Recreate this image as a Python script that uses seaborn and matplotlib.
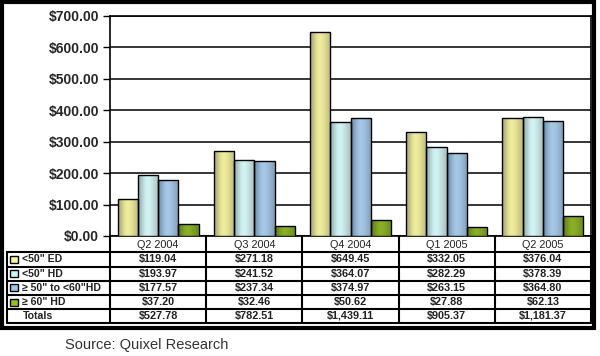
import numpy as np
import pandas as pd
import seaborn as sns
import matplotlib.pyplot as plt
from matplotlib.patches import Rectangle

quarters = ['Q2 2004', 'Q3 2004', 'Q4 2004', 'Q1 2005', 'Q2 2005']
series = ['<50" ED', '<50" HD', '\u2265 50" to <60"HD', '\u2265 60" HD']
ed_50 = [119.04, 271.18, 649.45, 332.05, 376.04]
hd_50 = [193.97, 241.52, 364.07, 282.29, 378.39]
hd_50_60 = [177.57, 237.34, 374.97, 263.15, 364.80]
hd_60 = [37.20, 32.46, 50.62, 27.88, 62.13]
totals = [527.78, 782.51, 1439.11, 905.37, 1181.37]
colors = ['#FAF690', '#CAF6F6', '#98C6F0', '#92C410']

df = pd.DataFrame({
    'quarter': np.repeat(quarters, len(series)),
    'series': series * len(quarters),
    'value': np.array([ed_50, hd_50, hd_50_60, hd_60]).T.ravel(),
})

sns.set_style('white')
plt.rcParams['font.family'] = ['Liberation Sans', 'DejaVu Sans']

fig = plt.figure(figsize=(6, 3.56), dpi=100)
W, H = 600, 356


def fig_rect(x0, y0, x1, y1):
    return [x0 / W, 1 - y1 / H, (x1 - x0) / W, (y1 - y0) / H]


ax = fig.add_axes(fig_rect(110, 16, 591, 236))
sns.barplot(data=df, x='quarter', y='value', hue='series', order=quarters,
            hue_order=series, palette=colors, width=0.84, ax=ax,
            edgecolor='black', linewidth=1.0, legend=False, zorder=3)
ax.set_ylim(0, 700)
ax.set_yticks(np.arange(0, 701, 100))
ax.set_yticklabels([f'${v:,.2f}' for v in np.arange(0, 701, 100)],
                   fontsize=10, fontweight='bold')
ax.yaxis.grid(True, color='black', linewidth=1.1, zorder=0)
ax.set_axisbelow(True)
ax.tick_params(axis='y', direction='out', length=5, width=1, color='black', pad=3, left=True)
ax.set_xticks([])
ax.set_xlabel('')
ax.set_ylabel('')
for s in ax.spines.values():
    s.set_color('black')
    s.set_linewidth(1.2)

# horizontal shading on each bar
shade = np.array([0.74, 0.87, 1.0, 1.02, 0.97, 0.9, 0.82])
for patch in ax.patches:
    bb = patch.get_bbox()
    if bb.height <= 0:
        continue
    base = np.array(patch.get_facecolor()[:3])
    img = np.clip(base[None, None, :] * shade[None, :, None], 0, 1)
    im = ax.imshow(img, extent=[bb.x0, bb.x1, bb.y0, bb.y1], aspect='auto',
                   interpolation='bicubic', zorder=3.5)
    im.set_clip_path(patch)
    patch.set_zorder(4)
    patch.set_facecolor('none')
ax.set_xlim(-0.5, len(quarters) - 0.5)
ax.set_ylim(0, 700)

# data table under the chart
lab_w = 103 / 96.2
tab = fig.add_axes(fig_rect(7, 236, 591, 323))
tab.set_xlim(-0.5 - lab_w, len(quarters) - 0.5)
tab.set_ylim(87, 0)
tab.axis('off')
rows = [16, 30.5, 44.8, 59, 73, 87]
left = -0.5 - lab_w
right = len(quarters) - 0.5
lw = 1.5
for y in rows:
    tab.plot([left, right], [y, y], color='black', lw=lw, clip_on=False)
for i in range(len(quarters) + 1):
    tab.plot([i - 0.5, i - 0.5], [0, 87], color='black', lw=lw, clip_on=False)
tab.plot([left, left], [16, 87], color='black', lw=lw, clip_on=False)

for j, q in enumerate(quarters):
    tab.text(j, 8.5, q, ha='center', va='center', fontsize=7.8, color='#222222')

table_rows = [ed_50, hd_50, hd_50_60, hd_60]
for r, (name, vals) in enumerate(zip(series, table_rows)):
    yc = (rows[r] + rows[r + 1]) / 2
    tab.add_patch(Rectangle((left + 0.035, yc - 3.5), 0.075, 7, facecolor=colors[r],
                            edgecolor='black', lw=1.0))
    tab.text(left + 0.16, yc, name, ha='left', va='center', fontsize=7.6,
             fontweight='bold', color='#222222')
    for j, v in enumerate(vals):
        tab.text(j, yc, f'${v:,.2f}', ha='center', va='center', fontsize=7.8,
                 fontweight='bold', color='#222222')
yc = (rows[4] + rows[5]) / 2
tab.text(left + 0.16, yc, 'Totals', ha='left', va='center', fontsize=7.6,
         fontweight='bold', color='#222222')
for j, v in enumerate(totals):
    tab.text(j, yc, f'${v:,.2f}', ha='center', va='center', fontsize=7.8,
             fontweight='bold', color='#222222')

# outer frame
fig.patches.append(Rectangle((2 / W, 1 - 328 / H), 592 / W, 326 / H,
                             transform=fig.transFigure, fill=False,
                             edgecolor='black', lw=3))
fig.text(65 / W, 1 - 345 / H, 'Source: Quixel Research', ha='left', va='center',
         fontsize=10.5, color='#333333')

fig.savefig('out.png', dpi=100)
